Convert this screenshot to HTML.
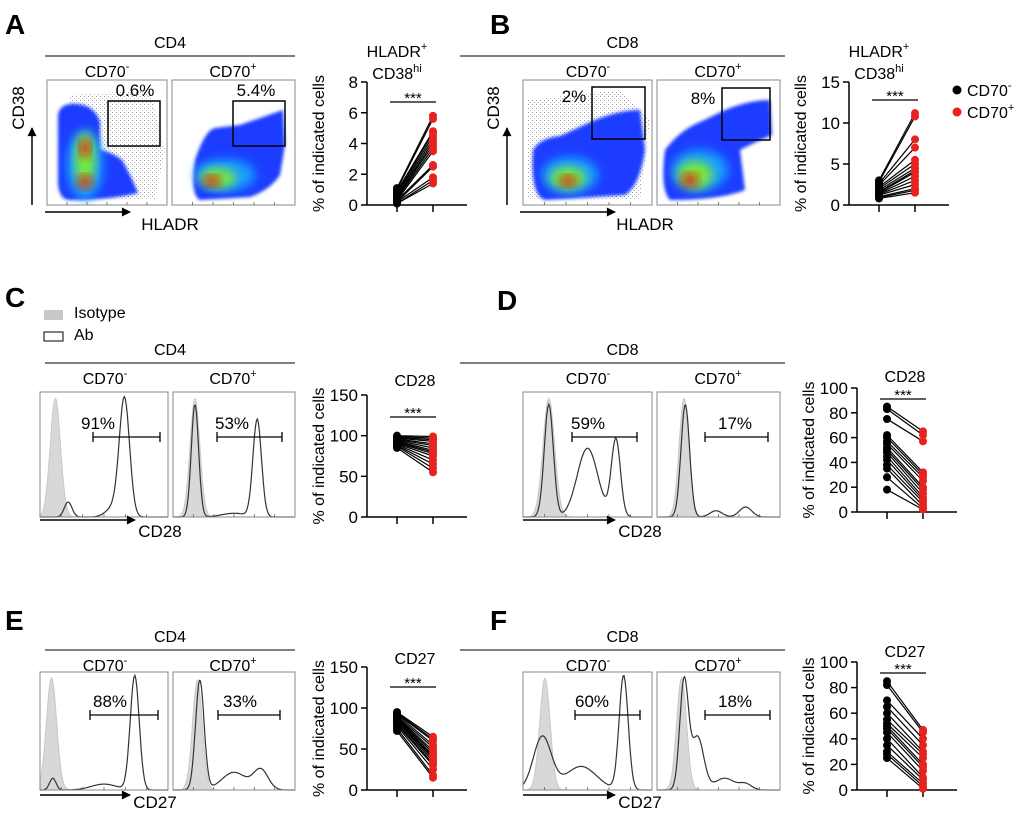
<!DOCTYPE html>
<html><head><meta charset="utf-8"><style>
body{margin:0;background:#fff;}
svg{display:block;font-family:"Liberation Sans",Arial,sans-serif;}
</style></head><body>
<svg id="fig" width="1020" height="815" viewBox="0 0 1020 815" xmlns="http://www.w3.org/2000/svg">
<defs>
<filter id="blur" x="-30%" y="-30%" width="160%" height="160%"><feGaussianBlur stdDeviation="5"/></filter>
<filter id="blur2" x="-30%" y="-30%" width="160%" height="160%"><feGaussianBlur stdDeviation="1.5"/></filter>
<pattern id="dots" width="4" height="4" patternUnits="userSpaceOnUse"><rect x="0" y="0" width="1" height="1" fill="#333"/><rect x="2" y="2" width="1" height="1" fill="#666"/></pattern>
<marker id="arr" viewBox="0 0 10 10" refX="9" refY="5" markerWidth="9" markerHeight="6" orient="auto"><path d="M0,0 L10,5 L0,10 z" fill="#000"/></marker>
</defs>
<g id="root"></g>
</svg>
<script>
// ---------- paired data ----------
const cats = ["CD70-","CD70+"];
const aNeg = [1.1,1.0,0.9,0.8,0.7,0.6,0.5,0.5,0.4,0.3,0.3,0.2,0.2,0.1,0.1];
const aPos = [5.8,5.6,4.8,4.7,4.5,4.3,4.1,3.9,3.7,3.5,2.6,2.5,1.8,1.6,1.4];
const bNeg = [3.0,2.8,2.6,2.4,2.2,2.0,1.8,1.6,1.5,1.4,1.3,1.2,1.0,0.9,0.8];
const bPos = [11.2,10.8,8.0,7.0,5.5,5.0,4.5,4.2,4.0,3.5,3.0,2.5,2.0,1.8,1.5];
const cNeg = [100,99,98,97,96,95,94,93,92,91,90,89,88,87,85];
const cPos = [99,97,95,93,90,88,85,82,80,78,75,70,65,60,55];
const dNeg = [85,83,75,62,60,57,55,52,50,48,45,42,38,35,28,18];
const dPos = [65,62,57,32,30,28,25,20,18,15,12,10,8,5,3,2];
const eNeg = [95,94,93,92,90,89,88,87,86,85,84,82,80,78,75,72];
const ePos = [65,62,60,55,52,48,45,42,40,38,35,32,30,25,18,15];
const fNeg = [85,82,70,65,60,55,52,50,48,45,40,35,30,28,25];
const fPos = [47,45,40,35,30,28,25,20,18,15,10,8,5,3,1];
const aTicks = [0,2,4,6,8];
const bTicks = [0,5,10,15];
const cTicks = [0,50,100,150];
const dTicks = [0,20,40,60,80,100];

const NS="http://www.w3.org/2000/svg";
const root=document.getElementById('root');
function el(tag,attrs,parent,text){const e=document.createElementNS(NS,tag);for(const k in attrs)e.setAttribute(k,attrs[k]);if(text!==undefined)e.textContent=text;(parent||root).appendChild(e);return e;}
function txt(x,y,s,size,name,extra){const t=el('text',Object.assign({x:x,y:y,'font-size':size,'text-anchor':'middle',fill:'#000'},extra||{}));t.innerHTML=s;return t;}

function paired(P){
  const g=el('g',{});
  
  
  const y=v=>P.y0-(v-P.tick[0])/(P.tick[P.tick.length-1]-P.tick[0])*(P.y0-P.y1);
  const x=i=>[P.ax+30,P.ax+66][i];
  el('line',{x1:P.ax,y1:P.y1,x2:P.ax,y2:P.y0,stroke:'#000','stroke-width':1.5},g);
  el('line',{x1:P.ax,y1:P.y0,x2:P.ax+100,y2:P.y0,stroke:'#000','stroke-width':1.5},g);
  P.tick.forEach(t=>{el('line',{x1:P.ax-6,y1:y(t),x2:P.ax,y2:y(t),stroke:'#000','stroke-width':1.5},g);
    const l=txt(P.ax-9,y(t)+6,String(t),17,'y-tick-label',{'text-anchor':'end'});g.appendChild(l);});
  [0,1].forEach(i=>el('line',{x1:x(i),y1:P.y0,x2:x(i),y2:P.y0+7,stroke:'#000','stroke-width':1.5},g));
  const yl=txt(0,0,'% of indicated cells',16,'y-axis-title',{transform:`translate(${P.ax-43},${(P.y0+P.y1)/2}) rotate(-90)`});g.appendChild(yl);
  const L=P.y1+P.sl;
  el('line',{x1:x(0)-7,y1:L,x2:x(1)+3,y2:L,stroke:'#000','stroke-width':1.2},g);
  const st=txt((x(0)+x(1))/2-2,L+1,'***',15,'significance-stars');g.appendChild(st);
  P.neg.forEach((v,i)=>{const ln=el('line',{x1:x(0),y1:y(v),x2:x(1),y2:y(P.pos[i]),stroke:'#000','stroke-width':1.2},g);
    });
  P.neg.forEach(v=>{const c=el('circle',{cx:x(0),cy:y(v),r:4,fill:'#000'},g);});
  P.pos.forEach(v=>{const c=el('circle',{cx:x(1),cy:y(v),r:4,fill:'#e8221e'},g);});
}
paired({name:'chart-a',ax:367,y0:205,y1:82,sl:20,tick:aTicks,neg:aNeg,pos:aPos});
paired({name:'chart-b',ax:849,y0:205,y1:82,sl:18,tick:bTicks,neg:bNeg,pos:bPos});
paired({name:'chart-c',ax:367,y0:517,y1:395,sl:22,tick:cTicks,neg:cNeg,pos:cPos});
paired({name:'chart-d',ax:857,y0:512,y1:388,sl:11,tick:dTicks,neg:dNeg,pos:dPos});
paired({name:'chart-e',ax:367,y0:790,y1:667,sl:20,tick:cTicks,neg:eNeg,pos:ePos});
paired({name:'chart-f',ax:857,y0:790,y1:662,sl:11,tick:dTicks,neg:fNeg,pos:fPos});
txt(397,57,'HLADR<tspan font-size="11" dy="-7">+</tspan>',16,'chart-a-title');
txt(397,79,'CD38<tspan font-size="11" dy="-7">hi</tspan>',16,'chart-a-title-2');
txt(879,57,'HLADR<tspan font-size="11" dy="-7">+</tspan>',16,'chart-b-title');
txt(879,79,'CD38<tspan font-size="11" dy="-7">hi</tspan>',16,'chart-b-title-2');
txt(415,386,'CD28',16,'chart-c-title');
txt(905,382,'CD28',16,'chart-d-title');
txt(415,664,'CD27',16,'chart-e-title');
txt(905,657,'CD27',16,'chart-f-title');
// legend
[[90,'#000','CD70<tspan font-size="11" dy="-7">-</tspan>'],[112,'#e8221e','CD70<tspan font-size="11" dy="-7">+</tspan>']].forEach(l=>{
  const c=el('circle',{cx:957,cy:l[0],r:4.5,fill:l[1]});
  txt(967,l[0]+6,l[2],16,'legend-entry',{'text-anchor':'start'});});

// ---------- panel letters ----------
[['A',5,34],['B',490,34],['C',5,307],['D',497,310],['E',5,630],['F',490,630]].forEach(p=>txt(p[1],p[2],p[0],28,'panel-letter-'+p[0].toLowerCase(),{'text-anchor':'start','font-weight':'bold'}));

// ---------- headers ----------
function header(x1,x2,ly,label,b1,b2){
  txt((x1+x2)/2,ly-8,label,16,'header-'+label.toLowerCase());
  const l=el('line',{x1:x1,y1:ly,x2:x2,y2:ly,stroke:'#000','stroke-width':1});
  txt(b1,ly+21,'CD70<tspan font-size="11" dy="-7">-</tspan>',16,'subheader-cd70neg');
  txt(b2,ly+21,'CD70<tspan font-size="11" dy="-7">+</tspan>',16,'subheader-cd70pos');
}
header(45,295,56,'CD4',107,233);
header(460,785,56,'CD8',588,718);
header(45,295,363,'CD4',105,233);
header(460,785,363,'CD8',588,718);
header(45,295,650,'CD4',105,233);
header(460,785,650,'CD8',588,718);

// ---------- density plots ----------
const jet=['#1a3cff','#18a0ff','#20e0d0','#7ce83a','#f5e71c','#ff8a10','#e81010'];
function box(x,y,w,h){const r=el('rect',{x:x,y:y,width:w,height:h,fill:'none',stroke:'#888','stroke-width':1});
  for(let i=1;i<6;i++){el('line',{x1:x+i*w/6,y1:y+h,x2:x+i*w/6,y2:y+h-3,stroke:'#666','stroke-width':0.8});}}
function density(x,y,w,h,shapes,gate,pct,speck){
  const g=el('g',{});
  const cp=el('clipPath',{id:'cp'+x+'_'+y},g);el('rect',{x:x,y:y,width:w,height:h},cp);
  const inner=el('g',{'clip-path':`url(#cp${x}_${y})`},g);
  if(speck)el('path',{d:speck,fill:'url(#dots)',opacity:0.5},inner);
  shapes.forEach((s,i)=>{const e=el(s.d?'path':'ellipse',s.d?{d:s.d,fill:s.c}:{cx:s.cx,cy:s.cy,rx:s.rx,ry:s.ry,fill:s.c},inner);e.setAttribute('filter',i==0?'url(#blur2)':'url(#blur)');});
  box(x,y,w,h);
  const gr=el('rect',{x:gate[0],y:gate[1],width:gate[2],height:gate[3],fill:'none',stroke:'#000','stroke-width':1.5},g);
  txt(pct[1],pct[2],pct[0],17,'gate-percentage');
}
density(47,80,120,125,[
 {d:'M58,115 Q60,102 78,104 Q95,106 100,122 L100,150 Q112,152 122,160 Q132,178 138,193 Q110,200 70,200 Q60,200 58,185 Z',c:jet[0]},
 {cx:85,cy:165,rx:18,ry:34,c:jet[1]},{cx:85,cy:160,rx:10,ry:28,c:jet[3]},
 {cx:85,cy:148,rx:5,ry:9,c:jet[6]},{cx:85,cy:182,rx:7,ry:6,c:jet[6]}],
 [108,101,52,45],['0.6%',135,96],'M70,95 L150,90 L165,150 L155,200 L60,200 Z');
density(172,80,123,125,[
 {d:'M195,160 Q205,130 215,128 L240,125 Q260,118 283,110 L285,145 L280,175 Q270,190 250,197 L200,200 Q190,195 195,160 Z',c:jet[0]},
 {cx:225,cy:175,rx:30,ry:16,c:jet[1]},{cx:218,cy:178,rx:18,ry:10,c:jet[3]},
 {cx:212,cy:181,rx:8,ry:5,c:jet[6]}],
 [233,101,52,45],['5.4%',256,96]);
density(523,80,129,125,[
 {d:'M533,150 Q540,138 560,136 L595,120 Q620,110 640,110 L645,150 Q640,185 625,195 L545,200 Q530,195 533,150 Z',c:jet[0]},
 {cx:570,cy:175,rx:28,ry:18,c:jet[1]},{cx:568,cy:178,rx:18,ry:11,c:jet[3]},
 {cx:568,cy:181,rx:8,ry:5,c:jet[6]}],
 [592,87,53,52],['2%',574,102],'M528,100 L620,90 L650,120 L640,200 L528,200 Z');
density(657,80,123,125,[
 {d:'M665,150 Q680,130 700,122 L725,110 Q750,100 770,100 L772,135 Q760,140 740,150 L745,190 Q720,200 670,200 Q660,190 665,150 Z',c:jet[0]},
 {cx:700,cy:170,rx:28,ry:20,c:jet[1]},{cx:695,cy:175,rx:18,ry:14,c:jet[3]},
 {cx:690,cy:180,rx:8,ry:6,c:jet[6]}],
 [722,88,48,52],['8%',703,104]);
// axis arrows A, B
[[45,130,'HLADR',160,32],[520,615,'HLADR',635,507]].forEach(a=>{
  const l=el('line',{x1:a[0],y1:212,x2:a[1],y2:212,stroke:'#000','stroke-width':1.5,'marker-end':'url(#arr)'});
  txt(a[3]+10,230,a[2],17,'x-axis-title');
  const v=el('line',{x1:a[4],y1:205,x2:a[4],y2:128,stroke:'#000','stroke-width':1.5,'marker-end':'url(#arr)'});
  txt(0,0,'CD38',17,'y-axis-title',{transform:`translate(${a[4]-8},108) rotate(-90)`});
});

// ---------- histograms ----------
// components: [centerFraction, heightFraction, widthFraction]
const hC1iso=[[0.12,0.95,0.04]], hC1ab=[[0.22,0.12,0.03],[0.66,0.93,0.04],[0.58,0.08,0.06]];
const hC2iso=[[0.18,0.95,0.04]], hC2ab=[[0.18,0.9,0.03],[0.69,0.78,0.035],[0.5,0.03,0.1]];
const hD1iso=[[0.2,0.95,0.045]], hD1ab=[[0.2,0.9,0.035],[0.5,0.55,0.08],[0.72,0.62,0.035]];
const hD2iso=[[0.22,0.95,0.04]], hD2ab=[[0.23,0.9,0.035],[0.72,0.08,0.05],[0.48,0.05,0.05]];
const hE1iso=[[0.09,0.95,0.04]], hE1ab=[[0.1,0.1,0.025],[0.74,0.97,0.035],[0.5,0.05,0.1]];
const hE2iso=[[0.2,0.93,0.04]], hE2ab=[[0.22,0.93,0.035],[0.5,0.15,0.1],[0.72,0.17,0.06]];
const hF1iso=[[0.17,0.95,0.04]], hF1ab=[[0.15,0.45,0.07],[0.78,0.97,0.035],[0.45,0.2,0.12]];
const hF2iso=[[0.2,0.95,0.04]], hF2ab=[[0.22,0.92,0.035],[0.33,0.45,0.05],[0.55,0.1,0.08],[0.72,0.05,0.05]];
function hpath(x,y,w,h,comps,close){
  let d='';for(let i=0;i<=120;i++){const f=i/120;let v=0;comps.forEach(c=>{v+=c[1]*Math.exp(-Math.pow((f-c[0])/c[2],2)/2);});v=Math.min(v,0.98);
    d+=(i?'L':'M')+(x+f*w).toFixed(1)+','+(y+h-v*h).toFixed(1);}
  if(close)d+=`L${x+w},${y+h}L${x},${y+h}Z`;return d;}
function hist(x,y,w,h,iso,ab,gate,pct){
  const g=el('g',{});
  const p1=el('path',{d:hpath(x,y,w,h,iso,true),fill:'#d8d8d8',stroke:'#c8c8c8'},g);
  const p2=el('path',{d:hpath(x,y,w,h,ab,false),fill:'none',stroke:'#333','stroke-width':1.2},g);
  box(x,y,w,h);
  const gy=gate[2];
  el('line',{x1:gate[0],y1:gy,x2:gate[1],y2:gy,stroke:'#000','stroke-width':1.3},g);
  el('line',{x1:gate[0],y1:gy-5,x2:gate[0],y2:gy+5,stroke:'#000','stroke-width':1.3},g);
  el('line',{x1:gate[1],y1:gy-5,x2:gate[1],y2:gy+5,stroke:'#000','stroke-width':1.3},g);
  txt(pct[1],gy-8,pct[0],17,'gate-percentage');
}
hist(40,392,128,125,hC1iso,hC1ab,[93,160,437],['91%',98]);
hist(173,392,122,125,hC2iso,hC2ab,[217,282,437],['53%',232]);
hist(523,392,129,125,hD1iso,hD1ab,[572,637,437],['59%',588]);
hist(657,392,123,125,hD2iso,hD2ab,[705,768,437],['17%',735]);
hist(40,672,128,118,hE1iso,hE1ab,[90,158,715],['88%',110]);
hist(173,672,122,118,hE2iso,hE2ab,[218,280,715],['33%',240]);
hist(523,672,129,118,hF1iso,hF1ab,[575,640,715],['60%',592]);
hist(657,672,123,118,hF2iso,hF2ab,[705,770,715],['18%',735]);
[[40,135,520,'CD28',160,537],[523,615,520,'CD28',640,537],[40,130,795,'CD27',155,808],[523,615,795,'CD27',640,808]].forEach(a=>{
  const l=el('line',{x1:a[0],y1:a[2],x2:a[1],y2:a[2],stroke:'#000','stroke-width':1.5,'marker-end':'url(#arr)'});
  txt(a[4],a[5],a[3],17,'x-axis-title');});
// legend C
const lr1=el('rect',{x:44,y:310,width:19,height:10,fill:'#c8c8c8'});
txt(74,318,'Isotype',16,'legend-isotype',{'text-anchor':'start'});
const lr2=el('rect',{x:44,y:332,width:19,height:9,fill:'none',stroke:'#000'});
txt(74,340,'Ab',16,'legend-ab',{'text-anchor':'start'});
</script>
</body></html>
